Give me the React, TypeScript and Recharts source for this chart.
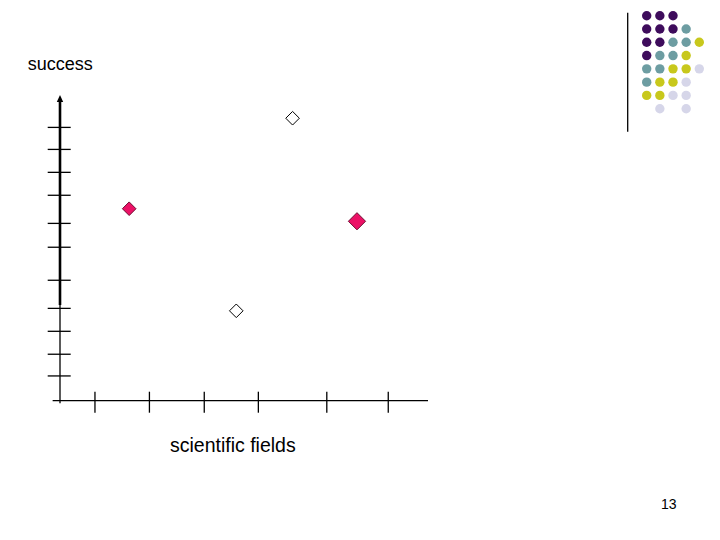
import { ScatterChart, Scatter, XAxis, YAxis, ReferenceLine } from "recharts";

// hand-drawn axis ticks (uneven, as on the slide)
const fieldTicks = [9.5, 24.3, 39.2, 53.9, 72.5, 89.2];
const successTicks = [8.1, 15.2, 22.7, 30.2, 39.4, 50.2, 58.0, 67.2, 74.7, 82.2, 89.4];

const filledPoints = [{ field: 18.8, success: 62.8 }];
const largeFilledPoints = [{ field: 80.7, success: 58.7 }];
const hollowPoints = [
  { field: 63.2, success: 92.4 },
  { field: 47.9, success: 29.4 },
];
const arrowPoint = [{ field: 0, success: 100 }];

// decorative dot grid, one string per row: P purple, T teal, Y yellow, L lavender
const dotRows = ["PPP..", "PPPT.", "PPTTY", "PTTY.", "TTYYL", "TYYL.", "YYLL.", ".L.L."];
const dotColors: Record<string, string> = {
  P: "#3E0C5C",
  T: "#6D9DA2",
  Y: "#C8C81C",
  L: "#D6D6E9",
};

const dots = dotRows.flatMap((row, r) =>
  row
    .split("")
    .map((c, col) => ({ col, row: r, key: c }))
    .filter((d) => d.key !== ".")
);

const font = "'Liberation Sans', Arial, sans-serif";

function Diamond(half: number, fill: string, stroke: string) {
  return (props: any) => {
    const { cx, cy } = props;
    return (
      <polygon
        points={`${cx},${cy - half} ${cx + half},${cy} ${cx},${cy + half} ${cx - half},${cy}`}
        fill={fill}
        stroke={stroke}
        strokeWidth={1}
      />
    );
  };
}

function Arrow(props: any) {
  const { cx, cy } = props;
  return <polygon points={`${cx},${cy} ${cx + 3.2},${cy + 7} ${cx - 3.2},${cy + 7}`} fill="#000" />;
}

function YTick(props: any) {
  const { x, y } = props;
  return <line x1={x - 12.3} x2={x + 10.7} y1={y} y2={y} stroke="#000" strokeWidth={1.3} />;
}

function XTick(props: any) {
  const { x, y } = props;
  return <line x1={x} x2={x} y1={y - 9} y2={y + 12} stroke="#000" strokeWidth={1.3} />;
}

function Dot(props: any) {
  const { cx, cy, payload } = props;
  return <circle cx={cx} cy={cy} r={4.7} fill={dotColors[payload.key]} />;
}

export default function App() {
  return (
    <div style={{ position: "absolute", left: 0, top: 0, width: 720, height: 540, background: "#fff" }}>
      <ScatterChart
        width={720}
        height={540}
        margin={{ top: 95, right: 292, bottom: 138.3, left: 59 }}
        style={{ position: "absolute", left: 0, top: 0 }}
      >
        <XAxis
          type="number"
          dataKey="field"
          domain={[0, 100]}
          ticks={fieldTicks}
          interval={0}
          height={1}
          axisLine={false}
          tickLine={false}
          tickSize={0}
          tickMargin={0}
          tick={XTick}
        />
        <YAxis
          type="number"
          dataKey="success"
          domain={[0, 100]}
          ticks={successTicks}
          interval={0}
          width={1}
          axisLine={false}
          tickLine={false}
          tickSize={0}
          tickMargin={0}
          tick={YTick}
        />
        <ReferenceLine
          segment={[{ x: -2, y: 0 }, { x: 100, y: 0 }]}
          stroke="#000"
          strokeWidth={1.3}
          ifOverflow="visible"
        />
        <ReferenceLine
          segment={[{ x: 0, y: -0.8 }, { x: 0, y: 31.3 }]}
          stroke="#000"
          strokeWidth={1.3}
          ifOverflow="visible"
        />
        <ReferenceLine
          segment={[{ x: 0, y: 31.3 }, { x: 0, y: 98 }]}
          stroke="#000"
          strokeWidth={2.6}
          ifOverflow="visible"
        />
        <Scatter data={arrowPoint} shape={Arrow} isAnimationActive={false} />
        <Scatter data={filledPoints} shape={Diamond(6.8, "#EC1166", "#6E0A30")} isAnimationActive={false} />
        <Scatter data={largeFilledPoints} shape={Diamond(8.6, "#EC1166", "#6E0A30")} isAnimationActive={false} />
        <Scatter data={hollowPoints} shape={Diamond(6.8, "#FFFFFF", "#000000")} isAnimationActive={false} />
      </ScatterChart>

      <ScatterChart
        width={100}
        height={140}
        margin={{ top: 15.7, right: 20.7, bottom: 31.3, left: 26.7 }}
        style={{ position: "absolute", left: 620, top: 0 }}
      >
        <XAxis type="number" dataKey="col" domain={[0, 4]} hide />
        <YAxis type="number" dataKey="row" domain={[0, 7]} reversed hide />
        <Scatter data={dots} shape={Dot} isAnimationActive={false} />
      </ScatterChart>

      <svg width={720} height={540} style={{ position: "absolute", left: 0, top: 0, pointerEvents: "none" }}>
        <line x1={627.7} x2={627.7} y1={12.7} y2={131.7} stroke="#000" strokeWidth={1.3} />
        <text x={27.7} y={69.5} fontFamily={font} fontSize={18} fill="#000">
          success
        </text>
        <text x={170} y={451.7} fontFamily={font} fontSize={19.5} fill="#000">
          scientific fields
        </text>
        <text x={661} y={509} fontFamily={font} fontSize={14} fill="#000">
          13
        </text>
      </svg>
    </div>
  );
}
